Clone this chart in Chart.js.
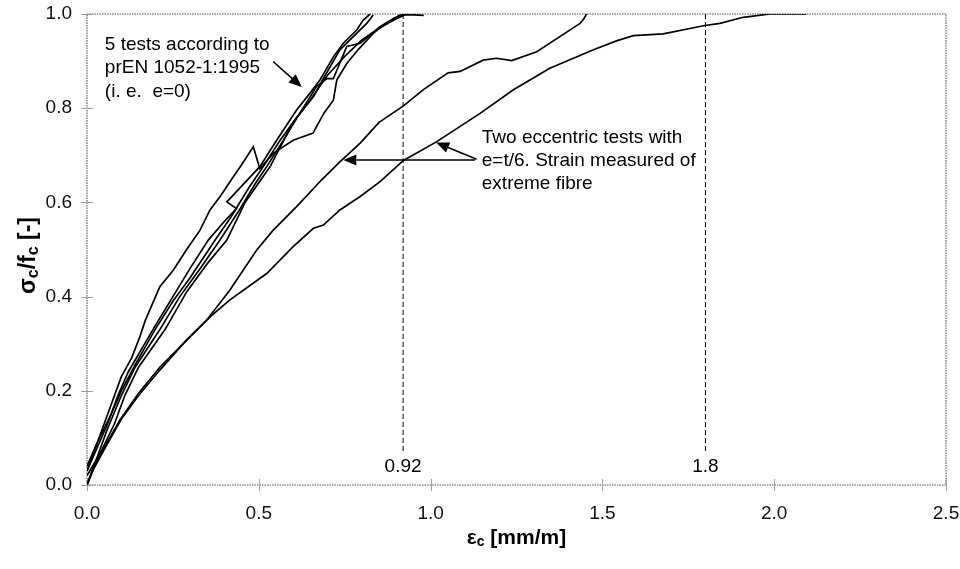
<!DOCTYPE html>
<html><head><meta charset="utf-8">
<script src="https://cdn.jsdelivr.net/npm/chart.js@4.4.0/dist/chart.umd.min.js"></script>
<style>html,body{margin:0;padding:0;background:#fff;}#wrap{width:960px;height:569px;}</style>
</head><body><div id="wrap"><canvas id="c" width="960" height="569"></canvas></div>
<script>
// ---- data (strain eps_c [mm/m], relative stress sigma_c/f_c [-]) ----
const test1X = [0, 0.02, 0.05, 0.08, 0.1, 0.13, 0.154, 0.17, 0.212, 0.251, 0.29, 0.329, 0.358, 0.39, 0.416, 0.45, 0.484, 0.503, 0.542, 0.6, 0.658, 0.668, 0.69, 0.717, 0.727, 0.756, 0.79, 0.833, 0.87, 0.911];
const test1Y = [0.03, 0.07, 0.13, 0.19, 0.23, 0.27, 0.315, 0.35, 0.421, 0.456, 0.50, 0.541, 0.584, 0.615, 0.644, 0.68, 0.718, 0.672, 0.704, 0.732, 0.747, 0.761, 0.79, 0.817, 0.86, 0.895, 0.925, 0.959, 0.98, 0.998];
const test2X = [0, 0.03, 0.06, 0.09, 0.12, 0.16, 0.2, 0.25, 0.3, 0.353, 0.4, 0.435, 0.407, 0.503, 0.552, 0.61, 0.649, 0.678, 0.717, 0.746, 0.785, 0.804, 0.824];
const test2Y = [0.03, 0.08, 0.13, 0.19, 0.24, 0.29, 0.34, 0.40, 0.46, 0.52, 0.56, 0.587, 0.601, 0.676, 0.732, 0.796, 0.832, 0.860, 0.909, 0.938, 0.966, 0.987, 1.0];
const test3X = [0, 0.03, 0.07, 0.1, 0.14, 0.198, 0.25, 0.3, 0.373, 0.42, 0.47, 0.513, 0.56, 0.61, 0.659, 0.688, 0.736, 0.775, 0.814, 0.833];
const test3Y = [0.04, 0.09, 0.15, 0.2, 0.255, 0.33, 0.39, 0.44, 0.52, 0.57, 0.63, 0.676, 0.73, 0.78, 0.824, 0.863, 0.924, 0.952, 0.980, 0.998];
const test4X = [0, 0.03, 0.06, 0.1, 0.14, 0.212, 0.27, 0.33, 0.387, 0.44, 0.49, 0.523, 0.57, 0.62, 0.668, 0.698, 0.717, 0.756, 0.795, 0.853, 0.891, 0.921];
const test4Y = [0.0, 0.06, 0.12, 0.19, 0.25, 0.33, 0.40, 0.46, 0.52, 0.58, 0.64, 0.676, 0.73, 0.79, 0.846, 0.863, 0.863, 0.931, 0.938, 0.973, 0.99, 1.0];
const test5X = [0, 0.04, 0.08, 0.11, 0.15, 0.227, 0.29, 0.35, 0.407, 0.46, 0.533, 0.6, 0.649, 0.7, 0.75, 0.8, 0.85, 0.9, 0.925, 0.95, 0.98];
const test5Y = [0.02, 0.07, 0.13, 0.19, 0.25, 0.33, 0.41, 0.47, 0.52, 0.6, 0.676, 0.77, 0.817, 0.87, 0.91, 0.945, 0.97, 0.99, 0.998, 0.998, 0.997];
const eccAX = [0, 0.02, 0.05, 0.096, 0.15, 0.212, 0.28, 0.348, 0.416, 0.494, 0.542, 0.61, 0.683, 0.736, 0.795, 0.85, 0.921, 0.98, 1.051, 1.086, 1.153, 1.192, 1.236, 1.309, 1.376, 1.435, 1.446, 1.454];
const eccAY = [0, 0.04, 0.08, 0.138, 0.195, 0.25, 0.3, 0.35, 0.414, 0.499, 0.541, 0.591, 0.648, 0.686, 0.726, 0.77, 0.805, 0.84, 0.875, 0.878, 0.902, 0.906, 0.901, 0.92, 0.952, 0.98, 0.99, 1.0];
const eccBX = [0, 0.02, 0.05, 0.1, 0.15, 0.212, 0.29, 0.363, 0.416, 0.523, 0.6, 0.659, 0.688, 0.736, 0.794, 0.853, 0.921, 1.018, 1.144, 1.241, 1.347, 1.474, 1.541, 1.59, 1.677, 1.794, 1.842, 1.91, 1.988, 2.094];
const eccBY = [0, 0.035, 0.075, 0.14, 0.19, 0.244, 0.308, 0.36, 0.393, 0.449, 0.506, 0.545, 0.552, 0.584, 0.612, 0.644, 0.689, 0.729, 0.789, 0.839, 0.885, 0.924, 0.943, 0.954, 0.958, 0.975, 0.98, 0.993, 1.0, 1.0];

// reference strain lines
const refX = [0.92, 1.8];
const refLabels = ['0.92', '1.8'];
const refTop = 1.0, refBottom = 0.066, refLabelY = 0.038;

// axis ticks
const xTicks = [0, 0.5, 1.0, 1.5, 2.0, 2.5];
const yTicks = [0, 0.2, 0.4, 0.6, 0.8, 1.0];

// texts
const note1Lines = ['5 tests according to', 'prEN 1052-1:1995', '(i. e.  e=0)'];
const note1Pos = {x: 0.052, y: 0.9236};            // baseline of first line (data units)
const note2Lines = ['Two eccentric tests with', 'e=t/6. Strain measured of', 'extreme fibre'];
const note2Pos = {x: 1.149, y: 0.7254};
const arrows = [
  {from: [0.542, 0.899], to: [0.625, 0.845]},
  {from: [1.129, 0.690], to: [0.746, 0.690]},
  {from: [1.134, 0.6915], to: [1.016, 0.727]}
];
const xTitleParts = [['ε', 0], ['c', 1], [' [mm/m]', 0]];
const yTitleParts = [['σ', 0], ['c', 1], ['/f', 0], ['c', 1], [' [-]', 0]];

const FONT = '"Liberation Sans", Arial, sans-serif';
const pts = (xs, ys) => xs.map((x, i) => ({x: x, y: ys[i]}));
const curve = (xs, ys) => ({data: pts(xs, ys), showLine: true, borderColor: '#000', borderWidth: 1.7,
  pointRadius: 0, tension: 0, fill: false});

const datasets = [
  curve(test1X, test1Y), curve(test2X, test2Y), curve(test3X, test3Y),
  curve(test4X, test4Y), curve(test5X, test5Y), curve(eccAX, eccAY), curve(eccBX, eccBY)
];
refX.forEach(v => datasets.push({data: [{x: v, y: refTop}, {x: v, y: refBottom}], showLine: true,
  borderColor: '#000', borderWidth: 1, borderDash: [5, 3], pointRadius: 0}));

function drawParts(ctx, parts, size) {
  let w = 0;
  const sub = Math.round(size * 0.68);
  parts.forEach(p => { ctx.font = 'bold ' + (p[1] ? sub : size) + 'px ' + FONT; w += ctx.measureText(p[0]).width; });
  let x = -w / 2;
  parts.forEach(p => {
    ctx.font = 'bold ' + (p[1] ? sub : size) + 'px ' + FONT;
    ctx.fillText(p[0], x, p[1] ? size * 0.22 : 0);
    x += ctx.measureText(p[0]).width;
  });
}

const decor = {
  id: 'decor',
  beforeDraw(chart) {
    const ctx = chart.ctx; ctx.save(); ctx.fillStyle = '#fff';
    ctx.fillRect(0, 0, chart.width, chart.height); ctx.restore();
  },
  beforeDatasetsDraw(chart) {
    const {ctx, chartArea: a, scales} = chart;
    ctx.save();
    ctx.strokeStyle = '#8a8a8a'; ctx.lineWidth = 1.6; ctx.setLineDash([1.5, 1]);
    ctx.strokeRect(a.left, a.top, a.right - a.left, a.bottom - a.top);
    ctx.setLineDash([]); ctx.lineWidth = 1; ctx.strokeStyle = '#a0a0a0';
    xTicks.forEach(v => { const px = Math.round(scales.x.getPixelForValue(v)) + 0.5;
      ctx.beginPath(); ctx.moveTo(px, a.bottom - 6); ctx.lineTo(px, a.bottom + 6); ctx.stroke(); });
    yTicks.forEach(v => { const py = Math.round(scales.y.getPixelForValue(v)) + 0.5;
      ctx.beginPath(); ctx.moveTo(a.left - 6, py); ctx.lineTo(a.left + 6, py); ctx.stroke(); });
    ctx.restore();
  },
  afterDraw(chart) {
    const {ctx, chartArea: a, scales} = chart;
    const X = v => scales.x.getPixelForValue(v), Y = v => scales.y.getPixelForValue(v);
    ctx.save();
    ctx.fillStyle = '#000'; ctx.strokeStyle = '#000';
    ctx.font = '19px ' + FONT; ctx.textBaseline = 'alphabetic'; ctx.textAlign = 'left';
    note1Lines.forEach((t, i) => ctx.fillText(t, X(note1Pos.x), Y(note1Pos.y) + i * 23.5));
    note2Lines.forEach((t, i) => ctx.fillText(t, X(note2Pos.x), Y(note2Pos.y) + i * 23));
    ctx.textAlign = 'center'; ctx.textBaseline = 'middle';
    refX.forEach((v, i) => ctx.fillText(refLabels[i], X(v), Y(refLabelY)));
    // arrows
    arrows.forEach(ar => {
      const x1 = X(ar.from[0]), y1 = Y(ar.from[1]), x2 = X(ar.to[0]), y2 = Y(ar.to[1]);
      const ang = Math.atan2(y2 - y1, x2 - x1), L = 13, W = 5.5;
      const bx = x2 - L * Math.cos(ang), by = y2 - L * Math.sin(ang);
      ctx.lineWidth = 1.5;
      ctx.beginPath(); ctx.moveTo(x1, y1); ctx.lineTo(bx, by); ctx.stroke();
      ctx.beginPath(); ctx.moveTo(x2, y2);
      ctx.lineTo(bx + W * Math.sin(ang), by - W * Math.cos(ang));
      ctx.lineTo(bx - W * Math.sin(ang), by + W * Math.cos(ang));
      ctx.closePath(); ctx.fill();
    });
    // axis titles
    ctx.textAlign = 'left'; ctx.textBaseline = 'middle';
    ctx.save(); ctx.translate((a.left + a.right) / 2, 538); drawParts(ctx, xTitleParts, 21); ctx.restore();
    ctx.save(); ctx.translate(29, (a.top + a.bottom) / 2 + 6); ctx.rotate(-Math.PI / 2); drawParts(ctx, yTitleParts, 23); ctx.restore();
    ctx.restore();
  }
};

new Chart(document.getElementById('c'), {
  type: 'scatter',
  data: {datasets: datasets},
  options: {
    responsive: false, animation: false, devicePixelRatio: 1,
    layout: {padding: {left: 0, right: 14, top: 14, bottom: 0}},
    plugins: {legend: {display: false}, tooltip: {enabled: false}},
    scales: {
      x: {type: 'linear', min: 0, max: 2.5,
        afterBuildTicks: s => { s.ticks = xTicks.map(v => ({value: v})); },
        afterFit: s => { s.height = 84; s.paddingLeft = 0; s.paddingRight = 0; },
        grid: {display: false, drawTicks: false}, border: {display: false},
        ticks: {padding: 17, color: '#111', font: {family: FONT, size: 19}, callback: v => v.toFixed(1)}},
      y: {type: 'linear', min: 0, max: 1,
        afterBuildTicks: s => { s.ticks = yTicks.map(v => ({value: v})); },
        afterFit: s => { s.width = 87; s.paddingTop = 0; s.paddingBottom = 0; },
        grid: {display: false, drawTicks: false}, border: {display: false},
        ticks: {padding: 15, color: '#111', font: {family: FONT, size: 19}, callback: v => v.toFixed(1)}}
    }
  },
  plugins: [decor]
});
</script></body></html>
